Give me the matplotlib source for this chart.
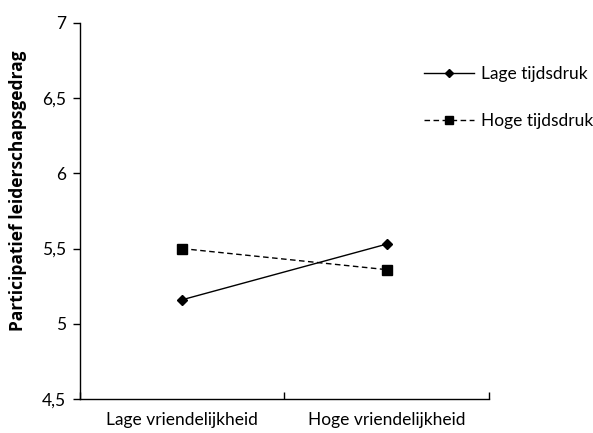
import matplotlib.pyplot as plt

plt.rcParams['font.family'] = ['Lato', 'DejaVu Sans']

categories = ['Lage vriendelijkheid', 'Hoge vriendelijkheid']
lage_tijdsdruk = [5.16, 5.53]
hoge_tijdsdruk = [5.50, 5.36]
yticks = [4.5, 5, 5.5, 6, 6.5, 7]
ytick_labels = ['4,5', '5', '5,5', '6', '6,5', '7']

fig = plt.figure(figsize=(5.93, 4.33), dpi=100)
ax = fig.add_axes([0.1349, 0.0785, 0.6897, 0.8684])

x = [0.5, 1.5]
ax.plot(x, lage_tijdsdruk, color='black', lw=1, marker='D', markersize=5.5,
        label='Lage tijdsdruk')
ax.plot(x, hoge_tijdsdruk, color='black', lw=1, ls=(0, (4, 2.5)), marker='s',
        markersize=6.5, label='Hoge tijdsdruk')

ax.set_xlim(0, 2)
ax.set_ylim(4.5, 7)
ax.set_yticks(yticks)
ax.set_yticklabels(ytick_labels, fontsize=12.5)
ax.set_xticks([0, 1, 2])
ax.set_xticklabels([])
ax.set_xticks(x, minor=True)
ax.set_xticklabels(categories, minor=True, fontsize=12.5)
ax.tick_params(axis='x', which='minor', length=0, pad=9)
ax.tick_params(axis='x', which='major', length=5, width=1, direction='in')
ax.tick_params(axis='y', length=5, width=1, direction='out', pad=5)

for s in ['top', 'right']:
    ax.spines[s].set_visible(False)
ax.spines['left'].set_linewidth(1)
ax.spines['bottom'].set_linewidth(1)

ax.set_ylabel('Participatief leiderschapsgedrag', fontsize=12.5, fontweight='bold',
              family=['Open Sans', 'DejaVu Sans'])
ax.yaxis.set_label_coords(-0.13, 0.555)

ax.legend(loc='upper left', bbox_to_anchor=(0.84, 0.885), frameon=False, fontsize=12.5,
          handlelength=2.9, labelspacing=1.8, handletextpad=0.4, borderaxespad=0,
          borderpad=0, markerscale=0.8)

fig.savefig('out.png', dpi=100)
